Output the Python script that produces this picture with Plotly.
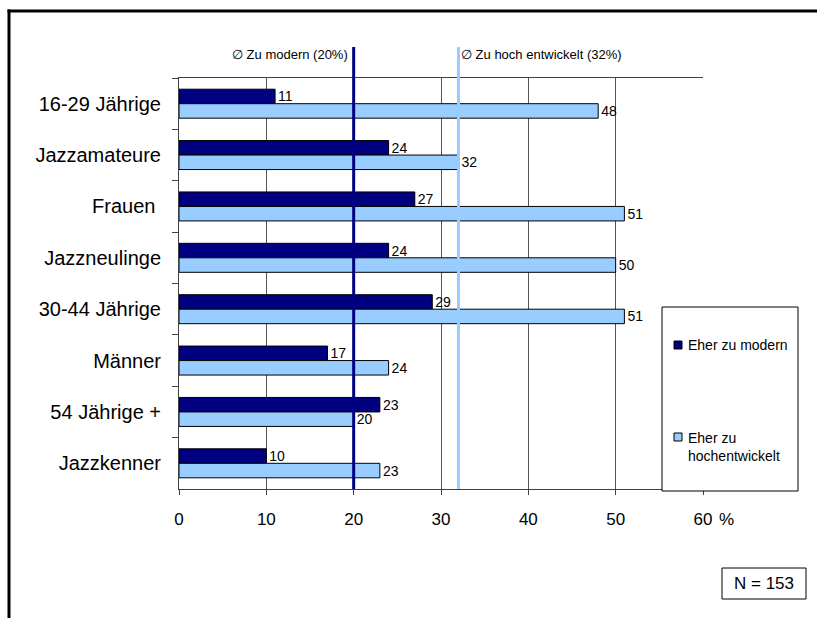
import plotly.graph_objects as go

categories = ["16-29 Jährige", "Jazzamateure", "Frauen\u00a0", "Jazzneulinge",
              "30-44 Jährige", "Männer", "54 Jährige +", "Jazzkenner"]
zu_modern = [11, 24, 27, 24, 29, 17, 23, 10]
zu_hochentwickelt = [48, 32, 51, 50, 51, 24, 20, 23]
series_names = ["Eher zu modern", "Eher zu<br>hochentwickelt"]
avg_modern = 20
avg_hoch = 32
x_ticks = [0, 10, 20, 30, 40, 50, 60]
sample_note = "N = 153"

DARK = "#000080"
LIGHT = "#99CCFF"
FONT = "Liberation Sans, Arial, sans-serif"

W, H = 817, 618
L, R, T, B = 179, 114, 78, 129
PW, PH = W - L - R, H - T - B


def px_x(p):
    return (p - L) / PW


def px_y(p):
    return (H - B - p) / PH


fig = go.Figure()
for vals, color, name in [(zu_modern, DARK, series_names[0]),
                          (zu_hochentwickelt, LIGHT, series_names[1])]:
    fig.add_trace(go.Bar(
        y=categories, x=vals, orientation="h", name=name,
        marker=dict(color=color, line=dict(color="black", width=1)),
        text=[str(v) for v in vals], textposition="outside",
        constraintext="none",
        textfont=dict(family=FONT, size=14, color="black"),
        cliponaxis=False, showlegend=False,
    ))

shapes = []
# average lines
for val, color in [(avg_modern, DARK), (avg_hoch, LIGHT)]:
    shapes.append(dict(type="line", xref="x", yref="paper", x0=val, x1=val,
                       y0=0, y1=px_y(47), line=dict(color=color, width=3),
                       layer="above"))
# outer frame (top and left edges; the rest runs off the page)
shapes.append(dict(type="line", xref="paper", yref="paper",
                   x0=px_x(7.5), x1=px_x(817), y0=px_y(11), y1=px_y(11),
                   line=dict(color="black", width=3)))
shapes.append(dict(type="line", xref="paper", yref="paper",
                   x0=px_x(9), x1=px_x(9), y0=px_y(9.5), y1=px_y(618),
                   line=dict(color="black", width=3)))
# legend box
shapes.append(dict(type="rect", xref="paper", yref="paper",
                   x0=px_x(662), x1=px_x(798), y0=px_y(491), y1=px_y(307),
                   line=dict(color="black", width=1), fillcolor="white",
                   layer="above"))
for yc, color in [(345, DARK), (437, LIGHT)]:
    shapes.append(dict(type="rect", xref="paper", yref="paper",
                       x0=px_x(674), x1=px_x(682), y0=px_y(yc + 4), y1=px_y(yc - 4),
                       line=dict(color="black", width=1), fillcolor=color,
                       layer="above"))
# sample size box
shapes.append(dict(type="rect", xref="paper", yref="paper",
                   x0=px_x(722), x1=px_x(806), y0=px_y(599), y1=px_y(568),
                   line=dict(color="black", width=1), fillcolor="white"))

annotations = [
    dict(xref="x", yref="paper", x=avg_modern, y=px_y(54), xshift=-4,
         text="\u2205 Zu modern (20%)", showarrow=False, xanchor="right",
         yanchor="middle", font=dict(family=FONT, size=13, color="black")),
    dict(xref="x", yref="paper", x=avg_hoch, y=px_y(54), xshift=1,
         text="\u2205 Zu hoch entwickelt (32%)", showarrow=False, xanchor="left",
         yanchor="middle", font=dict(family=FONT, size=13, color="black")),
    dict(xref="paper", yref="paper", x=px_x(686), y=px_y(345),
         text=series_names[0], showarrow=False, xanchor="left", yanchor="middle",
         font=dict(family=FONT, size=14, color="black")),
    dict(xref="paper", yref="paper", x=px_x(686), y=px_y(428), align="left",
         text=series_names[1], showarrow=False, xanchor="left", yanchor="top",
         font=dict(family=FONT, size=14, color="black")),
    dict(xref="paper", yref="paper", x=px_x(764), y=px_y(583.5),
         text=sample_note, showarrow=False, xanchor="center", yanchor="middle",
         font=dict(family=FONT, size=17, color="black")),
    dict(xref="x", yref="paper", x=x_ticks[-1], y=px_y(519), xshift=14,
         text="%", showarrow=False, xanchor="left", yanchor="middle",
         font=dict(family=FONT, size=17, color="black")),
]

fig.update_layout(
    width=W, height=H, margin=dict(l=L, r=R, t=T, b=B, pad=0),
    paper_bgcolor="white", plot_bgcolor="white",
    barmode="group", bargap=0.436, bargroupgap=0,
    shapes=shapes, annotations=annotations, showlegend=False,
    font=dict(family=FONT, color="black"),
)
fig.update_xaxes(
    range=[0, 60], tickvals=x_ticks, ticktext=[str(v) for v in x_ticks],
    showgrid=True, gridcolor="#555555", gridwidth=1, zeroline=False,
    showline=True, linecolor="#404040", linewidth=1, mirror=True,
    ticks="outside", ticklen=5, tickcolor="#404040", ticklabelstandoff=10,
    tickfont=dict(family=FONT, size=17, color="black"),
)
fig.update_yaxes(
    autorange="reversed", showgrid=False, showline=True, linecolor="#404040",
    linewidth=1, ticks="outside", ticklen=6, tickcolor="#404040",
    tickson="boundaries", ticklabelstandoff=13,
    tickfont=dict(family=FONT, size=20, color="black"),
)

fig.write_html("out.html")
